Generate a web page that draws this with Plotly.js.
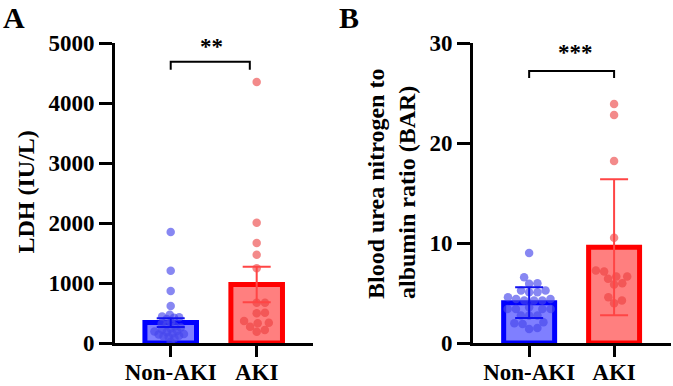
<!DOCTYPE html>
<html>
<head>
<meta charset="utf-8">
<script src="https://cdn.plot.ly/plotly-3.0.1.min.js"></script>
<style>
  html, body { margin: 0; padding: 0; background: #fff; }
  #chart { width: 673px; height: 386px; }
</style>
</head>
<body>
<div id="chart"></div>
<script>
// Groups
const categories = ["Non-AKI", "AKI"];

// Panel A: LDH (IU/L)
const ldhNonAki = [1850, 1206, 865, 617, 470, 440, 430, 420, 400, 350, 320, 300, 280,
                   260, 240, 220, 200, 190, 180, 160, 150, 140, 120, 110, 100, 80, 20];
const ldhAki = [4350, 2006, 1667, 1472, 1245, 672, 672, 505, 495, 367, 338, 328, 272, 217, 188];
const ldhMean = [340, 975];
const ldhErr = [72, 295];          // SEM
const ldhTicks = [0, 1000, 2000, 3000, 4000, 5000];

// Panel B: blood urea nitrogen to albumin ratio
const barNonAki = [8.99, 6.58, 5.98, 5.92, 5.25, 5.25, 5.08, 5.08, 4.57, 4.41, 4.41, 4.24, 4.24, 4.24,
                   3.57, 3.41, 3.41, 3.41, 3.41, 2.74, 2.74, 2.74, 2.07, 1.97, 1.91, 1.5, 1.4];
const barAki = [23.9, 22.8, 18.2, 10.53, 7.25, 7.15, 6.65, 6.65, 6.42, 5.98, 5.85, 4.57, 4.24, 3.97];
const barMean = [4.03, 9.57];
const barErr = [1.54, 6.8];        // SD
const barTicks = [0, 10, 20, 30];

// Figure geometry
const W = 673, H = 386, T = 43, B = 43;
const plotH = H - T - B;
const domA = [115 / W, 313 / W];
const domB = [473 / W, 671 / W];
const xRangeA = [-0.648, 1.655];
const xRangeB = [-0.661, 1.67];
const yRangeA = [0, 5000];
const yRangeB = [0, 30];

const FONT = "'Liberation Serif', 'Times New Roman', serif";
const blueFill = "rgba(0,0,255,0.5)";
const redFill = "rgba(255,0,0,0.5)";
const bluePt = "rgba(70,70,235,0.65)";
const redPt = "rgba(235,60,60,0.6)";

// Beeswarm spread: place points sorted by value, each at the offset
// closest to the centre that does not overlap an already placed point.
function swarm(vals, pxPerX, pxPerY, d) {
  const order = vals.map((v, i) => i).sort((a, b) => vals[a] - vals[b]);
  const placed = [];
  const off = new Array(vals.length).fill(0);
  for (const i of order) {
    const y = vals[i] * pxPerY;
    const cands = [0];
    for (const p of placed) {
      const dy = y - p.y;
      if (Math.abs(dy) < d) {
        const dx = Math.sqrt(d * d - dy * dy);
        cands.push(p.x + dx, p.x - dx);
      }
    }
    cands.sort((a, b) => Math.abs(a) - Math.abs(b));
    for (const c of cands) {
      if (placed.every(p => (p.x - c) ** 2 + (p.y - y) ** 2 >= d * d - 1e-6)) { off[i] = c; break; }
    }
    placed.push({ x: off[i], y: y });
  }
  return off.map(o => o / pxPerX);
}

function scales(dom, xr, yr) {
  return {
    px: (dom[1] - dom[0]) * W / (xr[1] - xr[0]),
    py: plotH / (yr[1] - yr[0])
  };
}

function panel(groups, means, errs, xa, ya, dom, xr, yr, spacing) {
  const s = scales(dom, xr, yr);
  const traces = [{
    type: "bar", x: [0, 1], y: means, width: 0.6, xaxis: xa, yaxis: ya,
    marker: { color: [blueFill, redFill], line: { color: ["#0000ff", "#ff0000"], width: 5 } },
    hoverinfo: "skip", showlegend: false
  }];
  const ptCol = [bluePt, redPt];
  groups.forEach((vals, g) => {
    const offs = swarm(vals, s.px, s.py, spacing[g]);
    traces.push({
      type: "scatter", mode: "markers", xaxis: xa, yaxis: ya,
      x: vals.map((v, i) => g + offs[i]), y: vals,
      marker: { size: 8.5, color: ptCol[g], line: { width: 0 } },
      cliponaxis: false, showlegend: false, hoverinfo: "skip"
    });
  });
  const errCol = ["#1010f0", "#ff4545"];
  [0, 1].forEach(g => {
    traces.push({
      type: "scatter", mode: "markers", xaxis: xa, yaxis: ya,
      x: [g], y: [means[g]],
      marker: { size: 1, color: "rgba(0,0,0,0)" },
      error_y: { type: "data", array: [errs[g]], color: errCol[g], thickness: 2, width: 14 },
      cliponaxis: false, showlegend: false, hoverinfo: "skip"
    });
  });
  return traces;
}

const data = [
  ...panel([ldhNonAki, ldhAki], ldhMean, ldhErr, "x", "y", domA, xRangeA, yRangeA, [5.2, 8.3]),
  ...panel([barNonAki, barAki], barMean, barErr, "x2", "y2", domB, xRangeB, yRangeB, [8.3, 8.3])
];

const tickFont = { family: FONT, size: 23, color: "#000", weight: "bold" };

function xAxis(dom, xr, anchor) {
  return {
    domain: dom, range: xr, anchor: anchor, fixedrange: true,
    tickvals: [0, 1], ticktext: categories,
    showline: true, linewidth: 3, linecolor: "#000",
    ticks: "outside", ticklen: 11, tickwidth: 3, tickcolor: "#000",
    ticklabelstandoff: -5,
    showgrid: false, zeroline: false, tickfont: tickFont
  };
}
function yAxis(yr, ticks, anchor) {
  return {
    range: yr, anchor: anchor, fixedrange: true, tickvals: ticks,
    showline: true, linewidth: 3, linecolor: "#000",
    ticks: "outside", ticklen: 13, tickwidth: 3, tickcolor: "#000",
    showgrid: false, zeroline: false, tickfont: tickFont
  };
}

const px2paperX = x => x / W;
const px2paperY = y => (H - B - y) / plotH;

function label(text, x, y, size, extra) {
  return Object.assign({
    text: text, xref: "paper", yref: "paper", x: px2paperX(x), y: px2paperY(y),
    xanchor: "center", yanchor: "middle", showarrow: false,
    font: { family: FONT, size: size, color: "#000", weight: "bold" }
  }, extra || {});
}

const layout = {
  width: W, height: H,
  margin: { l: 0, r: 0, t: T, b: B, pad: 0 },
  paper_bgcolor: "#fff", plot_bgcolor: "#fff",
  showlegend: false,
  xaxis: xAxis(domA, xRangeA, "y"),
  yaxis: yAxis(yRangeA, ldhTicks, "x"),
  xaxis2: xAxis(domB, xRangeB, "y2"),
  yaxis2: yAxis(yRangeB, barTicks, "x2"),
  shapes: [
    // significance brackets
    { type: "path", xref: "x", yref: "y", path: "M 0 4555 L 0 4688 L 0.92 4688 L 0.92 4555",
      line: { color: "#000", width: 2 } },
    { type: "path", xref: "x2", yref: "y2", path: "M 0 26.5 L 0 27.2 L 1 27.2 L 1 26.5",
      line: { color: "#000", width: 2 } }
  ],
  annotations: [
    { text: "**", xref: "x", yref: "y", x: 0.477, y: 4935, xanchor: "center", yanchor: "middle",
      showarrow: false, font: { family: FONT, size: 23, color: "#000", weight: "bold" } },
    { text: "***", xref: "x2", yref: "y2", x: 0.54, y: 29.05, xanchor: "center", yanchor: "middle",
      showarrow: false, font: { family: FONT, size: 23, color: "#000", weight: "bold" } },
    label("LDH (IU/L)", 25, 192.5, 24, { textangle: -90 }),
    label("Blood urea nitrogen to<br>albumin ratio (BAR)", 391, 184, 24, { textangle: -90, align: "left" }),
    label("A", 14, 17, 30),
    label("B", 349, 17, 30)
  ]
};

Plotly.newPlot("chart", data, layout, { staticPlot: true, displayModeBar: false });
</script>
</body>
</html>
